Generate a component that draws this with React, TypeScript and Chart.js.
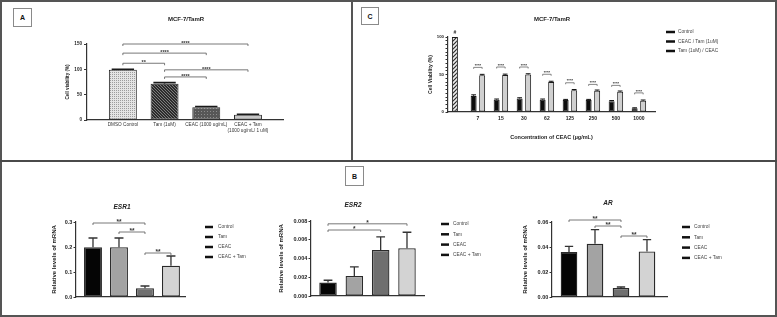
import { useEffect, useRef } from 'react';
import { Chart, registerables } from 'chart.js';

Chart.register(...registerables);

const FONT = "'Liberation Sans', Arial, Helvetica, sans-serif";
const INK = '#222';
const AXIS = '#333';
Chart.defaults.font.family = FONT;

// ---------------- Panel A data ----------------
const aCategories: string[][] = [['DMSO Control'], ['Tam (1uM)'], ['CEAC (1000 ug/mL)'], ['CEAC + Tam', '(1000 ug/mL/ 1 uM)']];
const aValues = [99, 71.5, 25, 10.5];
const aErrors = [1.2, 2.2, 1.5, 0.8];
const aBracketFrom = [0, 0, 0, 1, 1];
const aBracketTo = [3, 2, 1, 3, 2];
const aBracketY = [150, 132, 112, 99, 85];
const aBracketLabels = ['****', '****', '**', '****', '****'];

// ---------------- Panel C data ----------------
const cCategories = ['7', '15', '30', '62', '125', '250', '500', '1000'];
const cSeriesNames = ['Control', 'CEAC / Tam (1uM)', 'Tam (1uM) / CEAC'];
const cControl = 100;
const cCeacTam = [21.5, 16.5, 18, 16.5, 16, 16, 14.5, 5];
const cCeacTamErr = [1.4, 0.8, 1, 0.8, 0.8, 0.8, 0.8, 0.6];
const cTamCeac = [49, 49.5, 50, 40, 29, 28.3, 27, 15];
const cTamCeacErr = [1.2, 1, 1, 1, 1, 1, 1, 1];
const cBracketY = [59.5, 60, 60, 50.3, 39, 36.8, 35.5, 25.5];
const cBracketLabel = '****';
const cControlMark = '#';

// ---------------- Panel B data ----------------
const bGroups = ['Control', 'Tam', 'CEAC', 'CEAC + Tam'];
const esr1Values = [0.199, 0.199, 0.035, 0.125];
const esr1Errors = [0.037, 0.037, 0.009, 0.039];
const esr1BracketFrom = [0, 1, 2];
const esr1BracketTo = [2, 2, 3];
const esr1BracketY = [0.296, 0.26, 0.176];
const esr1BracketLabels = ['**', '**', '**'];

const esr2Values = [0.00143, 0.00214, 0.0049, 0.0051];
const esr2Errors = [0.00025, 0.00096, 0.0014, 0.0017];
const esr2BracketFrom = [0, 0];
const esr2BracketTo = [3, 2];
const esr2BracketY = [0.0077, 0.00704];
const esr2BracketLabels = ['*', '*'];

const arValues = [0.036, 0.0427, 0.0072, 0.0365];
const arErrors = [0.0045, 0.0112, 0.0008, 0.0094];
const arBracketFrom = [0, 1, 2];
const arBracketTo = [2, 2, 3];
const arBracketY = [0.0616, 0.0568, 0.0488];
const arBracketLabels = ['**', '**', '**'];

const bColors = ['#050505', '#a3a3a3', '#6f6f6f', '#d3d3d3'];

// ---------------- helpers ----------------
const fontStr = (f: any) => `${f.style || 'normal'} ${f.weight || 'normal'} ${f.size}px ${FONT}`;

function makePattern(size: number, bg: string, draw: (g: CanvasRenderingContext2D) => void) {
  const c = document.createElement('canvas');
  c.width = size;
  c.height = size;
  const g = c.getContext('2d') as CanvasRenderingContext2D;
  g.fillStyle = bg;
  g.fillRect(0, 0, size, size);
  draw(g);
  return g.createPattern(c, 'repeat') as CanvasPattern;
}

const decorPlugin = {
  id: 'decor',
  afterDatasetsDraw(chart: any, _a: any, o: any) {
    const { ctx } = chart;
    const ys = chart.scales.y;
    ctx.save();
    ctx.strokeStyle = o.errColor || INK;
    ctx.lineWidth = o.errWidth || 1;
    chart.data.datasets.forEach((ds: any, di: number) => {
      if (!ds.errors) return;
      const meta = chart.getDatasetMeta(di);
      meta.data.forEach((el: any, i: number) => {
        const pt = ds.data[i];
        const v = pt ? pt.y : null;
        const e = ds.errors[i];
        if (v == null || e == null) return;
        const y0 = ys.getPixelForValue(v);
        const y1 = ys.getPixelForValue(v + e);
        const half = (el.width * (o.capRatio || 0.5)) / 2;
        ctx.beginPath();
        ctx.moveTo(el.x, y0);
        ctx.lineTo(el.x, y1);
        ctx.moveTo(el.x - half, y1);
        ctx.lineTo(el.x + half, y1);
        ctx.stroke();
      });
    });
    ctx.restore();
  },
  afterDraw(chart: any, _a: any, o: any) {
    const { ctx } = chart;
    const ys = chart.scales.y;
    ctx.save();
    if (o.title) {
      const t = o.title;
      ctx.fillStyle = t.color || INK;
      ctx.font = fontStr(t.font);
      ctx.textAlign = 'center';
      ctx.textBaseline = 'middle';
      ctx.fillText(t.text, t.x, t.y);
    }
    (o.brackets || []).forEach((b: any) => {
      const x1 = chart.getDatasetMeta(b.from[0]).data[b.from[1]].x;
      const x2 = chart.getDatasetMeta(b.to[0]).data[b.to[1]].x;
      const y = ys.getPixelForValue(b.y);
      ctx.strokeStyle = o.bracketColor || '#555';
      ctx.lineWidth = o.bracketWidth || 0.8;
      ctx.beginPath();
      ctx.moveTo(x1, y + o.bracketTick);
      ctx.lineTo(x1, y);
      ctx.lineTo(x2, y);
      ctx.lineTo(x2, y + o.bracketTick);
      ctx.stroke();
      ctx.fillStyle = o.bracketTextColor || '#333';
      ctx.font = fontStr(o.bracketFont);
      ctx.textAlign = 'center';
      ctx.textBaseline = 'alphabetic';
      ctx.fillText(b.label, (x1 + x2) / 2, y + o.bracketTextDy);
    });
    (o.marks || []).forEach((m: any) => {
      const el = chart.getDatasetMeta(m.ds).data[m.i];
      ctx.fillStyle = INK;
      ctx.font = fontStr(m.font);
      ctx.textAlign = 'center';
      ctx.textBaseline = 'alphabetic';
      ctx.fillText(m.text, el.x, el.y - m.dy);
    });
    if (o.legend) {
      const L = o.legend;
      L.labels.forEach((t: string, k: number) => {
        const y = L.y + k * L.gap;
        ctx.fillStyle = L.markerColor || '#111';
        ctx.fillRect(L.x, y - L.markerH / 2, L.markerW, L.markerH);
        ctx.fillStyle = L.color || '#444';
        ctx.font = fontStr(L.font);
        ctx.textAlign = 'left';
        ctx.textBaseline = 'middle';
        ctx.fillText(t, L.x + L.textDx, y);
      });
    }
    ctx.restore();
  },
};

function xAxis(l: any, extra: any = {}) {
  return {
    type: 'linear',
    min: l.xMin,
    max: l.xMax,
    bounds: 'data',
    offset: false,
    afterBuildTicks: (s: any) => {
      s.ticks = l.xTicks.map((v: number) => ({ value: v }));
    },
    afterFit: (s: any) => {
      s.height = l.xHeight;
    },
    grid: { display: false, drawTicks: false, offset: false },
    border: { display: true, color: AXIS, width: 1.2 },
    ticks: { display: false, autoSkip: false, maxRotation: 0, minRotation: 0 },
    ...extra,
  };
}

function yAxis(l: any) {
  return {
    type: 'linear',
    min: 0,
    max: l.yMax,
    bounds: 'data',
    afterFit: (s: any) => {
      s.width = l.yWidth;
    },
    grid: {
      display: true,
      drawOnChartArea: false,
      drawTicks: true,
      tickLength: l.tickLength,
      tickColor: AXIS,
      tickWidth: 1,
      color: AXIS,
    },
    border: { display: true, color: AXIS, width: 1.2 },
    ticks: {
      stepSize: l.yStep,
      autoSkip: false,
      padding: l.tickPad,
      color: INK,
      font: { size: l.tickSize, weight: 'bold' },
      callback: l.yFormat,
    },
    title: {
      display: true,
      text: l.yTitle,
      color: INK,
      font: { size: l.titleSize, weight: 'bold' },
      padding: { top: 0, bottom: 0 },
    },
  };
}

function baseOptions(l: any, decor: any, xExtra: any = {}) {
  return {
    responsive: false,
    maintainAspectRatio: false,
    animation: false,
    events: [],
    layout: { padding: l.padding },
    plugins: {
      legend: { display: false },
      tooltip: { enabled: false },
      title: { display: false },
      decor,
    },
    scales: { x: xAxis(l, xExtra), y: yAxis(l) },
  };
}

// ---------------- chart builders ----------------
function makeA() {
  const pats = [
    makePattern(2, '#e4e4e4', (g) => {
      g.fillStyle = '#9c9c9c';
      g.fillRect(0, 0, 1, 1);
    }),
    makePattern(3, '#2c2c2c', (g) => {
      g.fillStyle = '#7d7d7d';
      g.fillRect(0, 0, 1, 1);
      g.fillRect(1, 1, 1, 1);
      g.fillRect(2, 2, 1, 1);
    }),
    makePattern(3, '#575757', (g) => {
      g.fillStyle = '#8c8c8c';
      g.fillRect(0, 0, 1, 1);
    }),
    '#c6c6c6',
  ];
  const l = {
    padding: { left: 65, right: 69, top: 44, bottom: 0 },
    yWidth: 22,
    xHeight: 40,
    xMin: -0.86,
    xMax: 3.84,
    xTicks: aCategories.map((_, i) => i),
    yMax: 150,
    yStep: 50,
    yFormat: (v: any) => String(v),
    yTitle: 'Cell viability (%)',
    tickLength: 3,
    tickPad: 2,
    tickSize: 4.6,
    titleSize: 4.6,
  };
  const decor = {
    title: { text: 'MCF-7/TamR', x: 186, y: 19, font: { size: 6, weight: 'bold' } },
    capRatio: 0.8,
    errWidth: 1.6,
    errColor: '#1a1a1a',
    bracketTick: 2,
    bracketWidth: 0.8,
    bracketColor: '#555',
    bracketFont: { size: 5.5, weight: 'bold' },
    bracketTextDy: 1,
    brackets: aBracketFrom.map((f, k) => ({ from: [0, f], to: [0, aBracketTo[k]], y: aBracketY[k], label: aBracketLabels[k] })),
  };
  return {
    type: 'bar',
    data: {
      datasets: [
        {
          data: aValues.map((v, i) => ({ x: i, y: v })),
          errors: aErrors,
          backgroundColor: pats,
          borderColor: '#2a2a2a',
          borderWidth: 1,
          borderSkipped: false,
          barPercentage: 0.67,
          categoryPercentage: 1,
          clip: false,
        },
      ],
    },
    options: baseOptions(l, decor, {
      ticks: {
        display: true,
        autoSkip: false,
        maxRotation: 0,
        minRotation: 0,
        padding: 2,
        color: '#333',
        font: { size: 4.7 },
        callback: (v: any) => aCategories[v] || '',
      },
    }),
    plugins: [decorPlugin],
  };
}

function makeC() {
  const hatch = makePattern(4, '#ededed', (g) => {
    g.strokeStyle = '#2e2e2e';
    g.lineWidth = 1.2;
    g.beginPath();
    g.moveTo(-1, 5);
    g.lineTo(5, -1);
    g.moveTo(-1, 1);
    g.lineTo(1, -1);
    g.moveTo(3, 5);
    g.lineTo(5, 3);
    g.stroke();
  });
  const l = {
    padding: { left: 74, right: 122, top: 37, bottom: 18 },
    yWidth: 20,
    xHeight: 30,
    xMin: -0.3,
    xMax: 8.7,
    xTicks: cCategories.map((_, i) => i + 1),
    yMax: 100,
    yStep: 5,
    yFormat: (v: any) => (Math.round(v) % 50 === 0 ? String(v) : ''),
    yTitle: 'Cell Viability (%)',
    tickLength: 2.5,
    tickPad: 1.5,
    tickSize: 4.3,
    titleSize: 5,
  };
  const common = {
    borderColor: '#1a1a1a',
    borderWidth: 1,
    borderSkipped: false,
    barPercentage: 0.7,
    categoryPercentage: 0.74,
    maxBarThickness: 6,
    skipNull: true,
    grouped: true,
    clip: false,
  };
  const decor = {
    title: { text: 'MCF-7/TamR', x: 198, y: 19, font: { size: 6, weight: 'bold' } },
    capRatio: 0.8,
    errWidth: 1,
    errColor: '#111',
    bracketTick: 1.5,
    bracketWidth: 0.7,
    bracketColor: '#555',
    bracketFont: { size: 4, weight: 'bold' },
    bracketTextDy: -0.3,
    brackets: cCategories.map((_, i) => ({ from: [1, i + 1], to: [2, i + 1], y: cBracketY[i], label: cBracketLabel })),
    marks: [{ ds: 0, i: 0, text: cControlMark, dy: 3, font: { size: 5, weight: 'bold' } }],
    legend: {
      x: 312,
      y: 32,
      gap: 9.5,
      markerW: 9,
      markerH: 2.5,
      textDx: 12,
      font: { size: 4.8 },
      color: '#444',
      labels: cSeriesNames,
    },
  };
  return {
    type: 'bar',
    data: {
      datasets: [
        {
          ...common,
          label: cSeriesNames[0],
          data: [{ x: 0, y: cControl }, ...cCategories.map((_, i) => ({ x: i + 1, y: null }))],
          backgroundColor: hatch,
        },
        {
          ...common,
          label: cSeriesNames[1],
          data: [{ x: 0, y: null }, ...cCeacTam.map((v, i) => ({ x: i + 1, y: v }))],
          errors: [null, ...cCeacTamErr],
          backgroundColor: '#0d0d0d',
        },
        {
          ...common,
          label: cSeriesNames[2],
          data: [{ x: 0, y: null }, ...cTamCeac.map((v, i) => ({ x: i + 1, y: v }))],
          errors: [null, ...cTamCeacErr],
          backgroundColor: '#d0d0d0',
        },
      ],
    },
    options: baseOptions(l, decor, {
      ticks: {
        display: true,
        autoSkip: false,
        maxRotation: 0,
        minRotation: 0,
        padding: 4,
        color: INK,
        font: { size: 5, weight: 'bold' },
        callback: (v: any) => cCategories[v - 1] || '',
      },
      title: {
        display: true,
        text: 'Concentration of CEAC (\u00b5g/mL)',
        color: INK,
        font: { size: 5.5, weight: 'bold' },
        padding: { top: 0, bottom: 1 },
      },
    }),
    plugins: [decorPlugin],
  };
}

function makeB(cfg: any) {
  const l = {
    padding: cfg.padding,
    yWidth: cfg.yWidth,
    xHeight: 10,
    xMin: cfg.xMin,
    xMax: cfg.xMax,
    xTicks: bGroups.map((_, i) => i),
    yMax: cfg.yMax,
    yStep: cfg.yStep,
    yFormat: (v: any) => Number(v).toFixed(cfg.decimals),
    yTitle: 'Relative levels of mRNA',
    tickLength: 2.5,
    tickPad: 1.2,
    tickSize: 5.5,
    titleSize: 6,
  };
  const decor = {
    title: { text: cfg.title, x: cfg.titleX, y: cfg.titleY, font: { size: 6.5, weight: 'bold', style: 'italic' } },
    capRatio: 0.5,
    errWidth: 1.3,
    errColor: '#333',
    bracketTick: 2,
    bracketWidth: 0.8,
    bracketColor: '#555',
    bracketFont: { size: 6.5, weight: 'bold' },
    bracketTextDy: 0.8,
    brackets: cfg.from.map((f: number, k: number) => ({ from: [0, f], to: [0, cfg.to[k]], y: cfg.bracketY[k], label: cfg.labels[k] })),
    legend: {
      x: cfg.legendX,
      y: cfg.legendY,
      gap: cfg.legendGap,
      markerW: 8,
      markerH: 2.5,
      textDx: cfg.textDx,
      font: { size: 4.8 },
      color: '#444',
      labels: bGroups,
    },
  };
  return {
    type: 'bar',
    data: {
      datasets: [
        {
          data: cfg.values.map((v: number, i: number) => ({ x: i, y: v })),
          errors: cfg.errors,
          backgroundColor: bColors,
          borderColor: '#2a2a2a',
          borderWidth: 1.3,
          borderSkipped: false,
          barPercentage: cfg.barPct,
          categoryPercentage: 1,
          clip: false,
        },
      ],
    },
    options: baseOptions(l, decor),
    plugins: [decorPlugin],
  };
}

const makeESR1 = () =>
  makeB({
    padding: { left: 48.4, right: 85, top: 60, bottom: 9 },
    yWidth: 25.6,
    xMin: -0.654,
    xMax: 3.54,
    barPct: 0.69,
    yMax: 0.3,
    yStep: 0.1,
    decimals: 1,
    title: 'ESR1',
    titleX: 120,
    titleY: 45,
    legendX: 203,
    legendY: 65,
    legendGap: 10,
    textDx: 13,
    values: esr1Values,
    errors: esr1Errors,
    from: esr1BracketFrom,
    to: esr1BracketTo,
    bracketY: esr1BracketY,
    labels: esr1BracketLabels,
  });

const makeESR2 = () =>
  makeB({
    padding: { left: 8.1, right: 96, top: 59, bottom: 10 },
    yWidth: 32.9,
    xMin: -0.646,
    xMax: 3.646,
    barPct: 0.665,
    yMax: 0.008,
    yStep: 0.002,
    decimals: 3,
    title: 'ESR2',
    titleX: 83,
    titleY: 43,
    legendX: 171,
    legendY: 62,
    legendGap: 10.3,
    textDx: 12,
    values: esr2Values,
    errors: esr2Errors,
    from: esr2BracketFrom,
    to: esr2BracketTo,
    bracketY: esr2BracketY,
    labels: esr2BracketLabels,
  });

const makeAR = () =>
  makeB({
    padding: { left: 2.1, right: 108, top: 60, bottom: 9 },
    yWidth: 29.9,
    xMin: -0.654,
    xMax: 3.77,
    barPct: 0.64,
    yMax: 0.06,
    yStep: 0.02,
    decimals: 2,
    title: 'AR',
    titleX: 88,
    titleY: 41,
    legendX: 162,
    legendY: 65,
    legendGap: 10.3,
    textDx: 12,
    values: arValues,
    errors: arErrors,
    from: arBracketFrom,
    to: arBracketTo,
    bracketY: arBracketY,
    labels: arBracketLabels,
  });

function PanelChart({ box, make }: { box: { x: number; y: number; w: number; h: number }; make: () => any }) {
  const ref = useRef<HTMLCanvasElement>(null);
  useEffect(() => {
    const chart = new Chart(ref.current as HTMLCanvasElement, make());
    return () => chart.destroy();
  }, []);
  return (
    <canvas
      ref={ref}
      width={box.w}
      height={box.h}
      style={{ position: 'absolute', left: box.x, top: box.y, width: box.w, height: box.h }}
    />
  );
}

function LabelBox({ x, y, w, h, text }: { x: number; y: number; w: number; h: number; text: string }) {
  return (
    <div
      style={{
        position: 'absolute',
        left: x,
        top: y,
        width: w,
        height: h,
        boxSizing: 'border-box',
        border: '1px solid #8a8a8a',
        background: '#fff',
        display: 'flex',
        alignItems: 'center',
        justifyContent: 'center',
        font: `bold 7px ${FONT}`,
        color: '#111',
      }}
    >
      {text}
    </div>
  );
}

export default function App() {
  return (
    <div style={{ position: 'fixed', left: 0, top: 0, width: 777, height: 317, background: '#fff', overflow: 'hidden' }}>
      <PanelChart box={{ x: 0, y: 0, w: 352, h: 160 }} make={makeA} />
      <PanelChart box={{ x: 354, y: 0, w: 423, h: 160 }} make={makeC} />
      <PanelChart box={{ x: 2, y: 162, w: 268, h: 154 }} make={makeESR1} />
      <PanelChart box={{ x: 270, y: 162, w: 250, h: 154 }} make={makeESR2} />
      <PanelChart box={{ x: 520, y: 162, w: 255, h: 154 }} make={makeAR} />
      <div
        style={{
          position: 'absolute',
          left: 0,
          top: 0,
          width: 777,
          height: 317,
          boxSizing: 'border-box',
          border: '2px solid #555',
          pointerEvents: 'none',
        }}
      />
      <div style={{ position: 'absolute', left: 351, top: 0, width: 2, height: 161, background: '#555' }} />
      <div style={{ position: 'absolute', left: 0, top: 160, width: 777, height: 2, background: '#4a4a4a' }} />
      <LabelBox x={13} y={8} w={19} h={19} text="A" />
      <LabelBox x={361} y={7} w={18} h={18} text="C" />
      <LabelBox x={345} y={166} w={19} h={20} text="B" />
    </div>
  );
}
